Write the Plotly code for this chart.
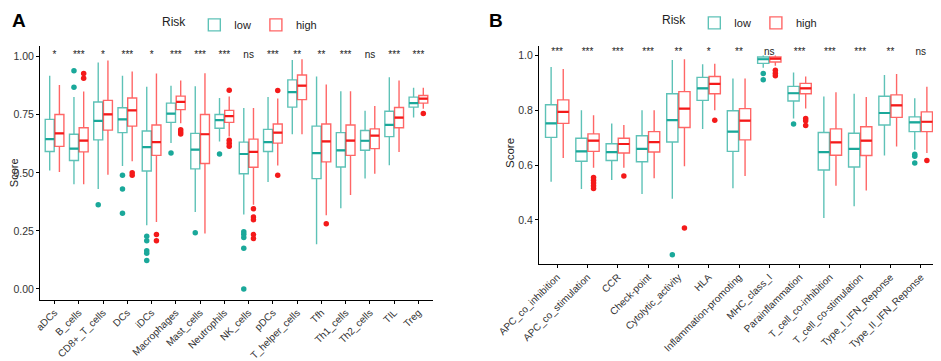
import plotly.graph_objects as go

# ---------------- Panel A data ----------------
cats_a = ["aDCs", "B_cells", "CD8+_T_cells", "DCs", "iDCs", "Macrophages", "Mast_cells",
          "Neutrophils", "NK_cells", "pDCs", "T_helper_cells", "Tfh", "Th1_cells",
          "Th2_cells", "TIL", "Treg"]
sig_a = ["*", "***", "*", "***", "*", "***", "***", "***", "ns", "***", "**", "**", "***", "ns", "***", "***"]

a_low_lo = [0.51, 0.451, 0.43, 0.529, 0.274, 0.628, 0.331, 0.635, 0.321, 0.461, 0.666, 0.192, 0.348, 0.476, 0.533, 0.738]
a_low_q1 = [0.592, 0.553, 0.642, 0.673, 0.508, 0.717, 0.517, 0.692, 0.496, 0.592, 0.783, 0.475, 0.525, 0.597, 0.656, 0.783]
a_low_md = [0.645, 0.604, 0.724, 0.73, 0.611, 0.755, 0.6, 0.727, 0.581, 0.632, 0.847, 0.585, 0.597, 0.638, 0.706, 0.8]
a_low_q3 = [0.73, 0.666, 0.805, 0.78, 0.68, 0.8, 0.67, 0.751, 0.632, 0.687, 0.9, 0.701, 0.673, 0.682, 0.765, 0.826]
a_low_hi = [0.918, 0.826, 0.975, 0.918, 0.871, 0.875, 0.873, 0.822, 0.779, 0.826, 0.986, 0.915, 0.851, 0.767, 0.911, 0.866]

a_high_lo = [0.503, 0.451, 0.492, 0.55, 0.288, 0.713, 0.239, 0.656, 0.363, 0.532, 0.666, 0.317, 0.404, 0.496, 0.59, 0.776]
a_high_q1 = [0.614, 0.59, 0.684, 0.701, 0.575, 0.772, 0.54, 0.717, 0.524, 0.628, 0.815, 0.547, 0.575, 0.604, 0.694, 0.8]
a_high_md = [0.67, 0.639, 0.752, 0.769, 0.632, 0.805, 0.666, 0.744, 0.59, 0.673, 0.875, 0.635, 0.639, 0.66, 0.738, 0.819]
a_high_q3 = [0.751, 0.694, 0.812, 0.822, 0.706, 0.83, 0.751, 0.769, 0.645, 0.71, 0.921, 0.71, 0.706, 0.689, 0.781, 0.833]
a_high_hi = [0.878, 0.85, 0.984, 0.936, 0.928, 0.897, 0.929, 0.829, 0.779, 0.82, 0.989, 0.88, 0.851, 0.788, 0.897, 0.866]

# outliers: (category index, value)
a_low_out_cat = [1, 1, 2, 3, 3, 3, 4, 4, 4, 4, 4, 5, 6, 7, 8, 8, 8, 8, 8]
a_low_out_val = [0.939, 0.868, 0.363, 0.489, 0.43, 0.326, 0.227, 0.208, 0.164, 0.154, 0.123, 0.585, 0.242, 0.581,
                 0.246, 0.236, 0.222, 0.175, 0.0]
a_high_out_cat = [1, 1, 3, 3, 4, 4, 5, 5, 5, 7, 7, 7, 7, 8, 8, 8, 8, 8, 9, 9, 11, 15]
a_high_out_val = [0.928, 0.907, 0.5, 0.49, 0.234, 0.208, 0.685, 0.676, 0.667, 0.856, 0.64, 0.627, 0.614,
                  0.345, 0.31, 0.298, 0.234, 0.217, 0.854, 0.489, 0.281, 0.755]

# ---------------- Panel B data ----------------
cats_b = ["APC_co_inhibition", "APC_co_stimulation", "CCR", "Check-point", "Cytolytic_activity", "HLA",
          "Inflammation-promoting", "MHC_class_I", "Parainflammation", "T_cell_co-inhibition",
          "T_cell_co-stimulation", "Type_I_IFN_Reponse", "Type_II_IFN_Reponse"]
sig_b = ["***", "***", "***", "***", "**", "*", "**", "ns", "***", "***", "***", "**", "ns"]

b_low_lo = [0.539, 0.513, 0.546, 0.495, 0.477, 0.732, 0.516, 0.955, 0.77, 0.407, 0.45, 0.635, 0.656]
b_low_q1 = [0.701, 0.614, 0.617, 0.612, 0.684, 0.836, 0.65, 0.971, 0.834, 0.582, 0.593, 0.746, 0.722]
b_low_md = [0.752, 0.65, 0.647, 0.659, 0.764, 0.88, 0.722, 0.986, 0.862, 0.647, 0.659, 0.79, 0.756]
b_low_q3 = [0.82, 0.698, 0.678, 0.707, 0.86, 0.92, 0.798, 0.994, 0.887, 0.719, 0.716, 0.851, 0.776]
b_low_hi = [0.958, 0.8, 0.752, 0.8, 0.983, 0.968, 0.916, 1.0, 0.938, 0.85, 0.86, 0.929, 0.844]

b_high_lo = [0.626, 0.59, 0.59, 0.552, 0.596, 0.8, 0.56, 0.962, 0.806, 0.525, 0.507, 0.668, 0.644]
b_high_q1 = [0.752, 0.65, 0.644, 0.648, 0.737, 0.86, 0.692, 0.976, 0.86, 0.636, 0.635, 0.774, 0.722]
b_high_md = [0.794, 0.689, 0.677, 0.684, 0.806, 0.896, 0.762, 0.988, 0.88, 0.683, 0.689, 0.818, 0.758]
b_high_q3 = [0.838, 0.714, 0.698, 0.722, 0.868, 0.923, 0.806, 0.994, 0.898, 0.732, 0.74, 0.856, 0.794]
b_high_hi = [0.95, 0.782, 0.746, 0.8, 0.986, 0.97, 0.916, 1.0, 0.923, 0.866, 0.848, 0.932, 0.886]

b_low_out_cat = [4, 7, 7, 8, 12, 12, 12]
b_low_out_val = [0.273, 0.934, 0.911, 0.75, 0.64, 0.632, 0.608]
b_high_out_cat = [1, 1, 1, 1, 1, 2, 4, 5, 7, 7, 7, 8, 8, 8, 12]
b_high_out_val = [0.555, 0.545, 0.535, 0.525, 0.515, 0.56, 0.371, 0.764, 0.946, 0.935, 0.926, 0.77, 0.762, 0.744, 0.617]

# ---------------- styling ----------------
LOW_LINE = "rgba(32,170,155,0.72)"
HIGH_LINE = "rgba(255,30,30,0.68)"
LOW_SOLID = "#1AA89A"
HIGH_SOLID = "#F41A1A"
OFF = 0.2
BW = 0.37
FONT = "Liberation Sans, Arial"

# page body has an 8px default margin: size the figure to the visible area
PAD = 8
W, H = 941 - PAD, 361 - PAD


def px(x):
    return (x - PAD) / W


def py(y):
    return 1 - (y - PAD) / H


fig = go.Figure()


def add_panel(fig, xa, ya, legend, lo_l, q1_l, md_l, q3_l, hi_l, lo_h, q1_h, md_h, q3_h, hi_h,
              out_lc, out_lv, out_hc, out_hv, n):
    for name, sign, lo, q1, md, q3, hi, lc, sc, oc, ov in [
        ("low", -1, lo_l, q1_l, md_l, q3_l, hi_l, LOW_LINE, LOW_SOLID, out_lc, out_lv),
        ("high", 1, lo_h, q1_h, md_h, q3_h, hi_h, HIGH_LINE, HIGH_SOLID, out_hc, out_hv),
    ]:
        xs = [i + sign * OFF for i in range(n)]
        fig.add_trace(go.Box(
            x=xs, q1=q1, median=md, q3=q3, lowerfence=lo, upperfence=hi,
            width=BW, whiskerwidth=0, fillcolor="white",
            line=dict(color=lc, width=1.4), boxpoints=False,
            name=name, legend=legend, xaxis=xa, yaxis=ya, hoverinfo="skip"))
        mx, my = [], []
        for i in range(n):
            mx += [i + sign * OFF - BW / 2, i + sign * OFF + BW / 2, None]
            my += [md[i], md[i], None]
        fig.add_trace(go.Scatter(x=mx, y=my, mode="lines", line=dict(color=sc, width=2.2),
                                 showlegend=False, xaxis=xa, yaxis=ya, hoverinfo="skip"))
        fig.add_trace(go.Scatter(x=[c + sign * OFF for c in oc], y=ov, mode="markers",
                                 marker=dict(color=sc, size=5.5), showlegend=False,
                                 xaxis=xa, yaxis=ya, hoverinfo="skip"))


add_panel(fig, "x", "y", "legend", a_low_lo, a_low_q1, a_low_md, a_low_q3, a_low_hi,
          a_high_lo, a_high_q1, a_high_md, a_high_q3, a_high_hi,
          a_low_out_cat, a_low_out_val, a_high_out_cat, a_high_out_val, len(cats_a))
add_panel(fig, "x2", "y2", "legend2", b_low_lo, b_low_q1, b_low_md, b_low_q3, b_low_hi,
          b_high_lo, b_high_q1, b_high_md, b_high_q3, b_high_hi,
          b_low_out_cat, b_low_out_val, b_high_out_cat, b_high_out_val, len(cats_b))

# significance labels
fig.add_trace(go.Scatter(x=list(range(len(cats_a))), y=[1.004] * len(cats_a), text=sig_a, mode="text",
                         textposition="middle center", textfont=dict(size=10, color="#222"),
                         showlegend=False, xaxis="x", yaxis="y", hoverinfo="skip"))
fig.add_trace(go.Scatter(x=list(range(len(cats_b))), y=[1.012] * len(cats_b), text=sig_b, mode="text",
                         textposition="middle center", textfont=dict(size=10, color="#222"),
                         showlegend=False, xaxis="x2", yaxis="y2", hoverinfo="skip"))

line_common = dict(showgrid=False, zeroline=False, showline=True, linecolor="black", linewidth=1.1,
                   ticks="outside", ticklen=3, tickcolor="black", tickwidth=1, automargin=False)
yfont = dict(family=FONT, size=10.5, color="#333")
xfont = dict(family=FONT, size=10, color="#333")

fig.update_layout(
    width=W, height=H, margin=dict(l=0, r=0, t=0, b=0, pad=0),
    plot_bgcolor="white", paper_bgcolor="white",
    font=dict(family=FONT, color="#222"),
    xaxis=dict(domain=[px(40), px(433)], range=[-0.6, len(cats_a) - 0.4], tickmode="array",
               tickvals=list(range(len(cats_a))), ticktext=cats_a, tickangle=-45, anchor="y",
               tickfont=xfont, ticklabelstandoff=-1, **line_common),
    yaxis=dict(domain=[py(299), py(41)], range=[-0.047, 1.048], tickmode="array",
               tickvals=[0, 0.25, 0.5, 0.75, 1.0], ticktext=["0.00", "0.25", "0.50", "0.75", "1.00"],
               anchor="x", tickfont=yfont, **line_common),
    xaxis2=dict(domain=[px(539), min(1.0, px(939))], range=[-0.6, len(cats_b) - 0.4], tickmode="array",
                tickvals=list(range(len(cats_b))), ticktext=cats_b, tickangle=-45, anchor="y2",
                tickfont=xfont, ticklabelstandoff=-1, **line_common),
    yaxis2=dict(domain=[py(263), py(41)], range=[0.238, 1.036], tickmode="array",
                tickvals=[0.4, 0.6, 0.8, 1.0], ticktext=["0.4", "0.6", "0.8", "1.0"],
                anchor="x2", tickfont=yfont, **line_common),
    legend=dict(orientation="h", x=px(160), y=py(20), xanchor="left", yanchor="middle",
                title=dict(text="Risk", font=dict(size=12, color="#222"), side="left"),
                font=dict(size=11, color="#222"), bgcolor="rgba(0,0,0,0)", itemwidth=30,
                tracegroupgap=0),
    legend2=dict(orientation="h", x=px(660), y=py(18), xanchor="left", yanchor="middle",
                 title=dict(text="Risk", font=dict(size=12, color="#222"), side="left"),
                 font=dict(size=11, color="#222"), bgcolor="rgba(0,0,0,0)", itemwidth=30,
                 tracegroupgap=0),
    annotations=[
        dict(text="<b>A</b>", x=px(10), y=py(16), xref="paper", yref="paper", xanchor="left",
             yanchor="middle", showarrow=False, font=dict(size=19, color="black", family=FONT)),
        dict(text="<b>B</b>", x=px(487), y=py(16), xref="paper", yref="paper", xanchor="left",
             yanchor="middle", showarrow=False, font=dict(size=19, color="black", family=FONT)),
        dict(text="Score", x=px(13.5), y=py(170), xref="paper", yref="paper", textangle=-90,
             xanchor="center", yanchor="middle", showarrow=False, font=dict(size=11, color="#222")),
        dict(text="Score", x=px(510), y=py(150), xref="paper", yref="paper", textangle=-90,
             xanchor="center", yanchor="middle", showarrow=False, font=dict(size=11.5, color="#222")),
    ],
)

fig.write_html("out.html")
